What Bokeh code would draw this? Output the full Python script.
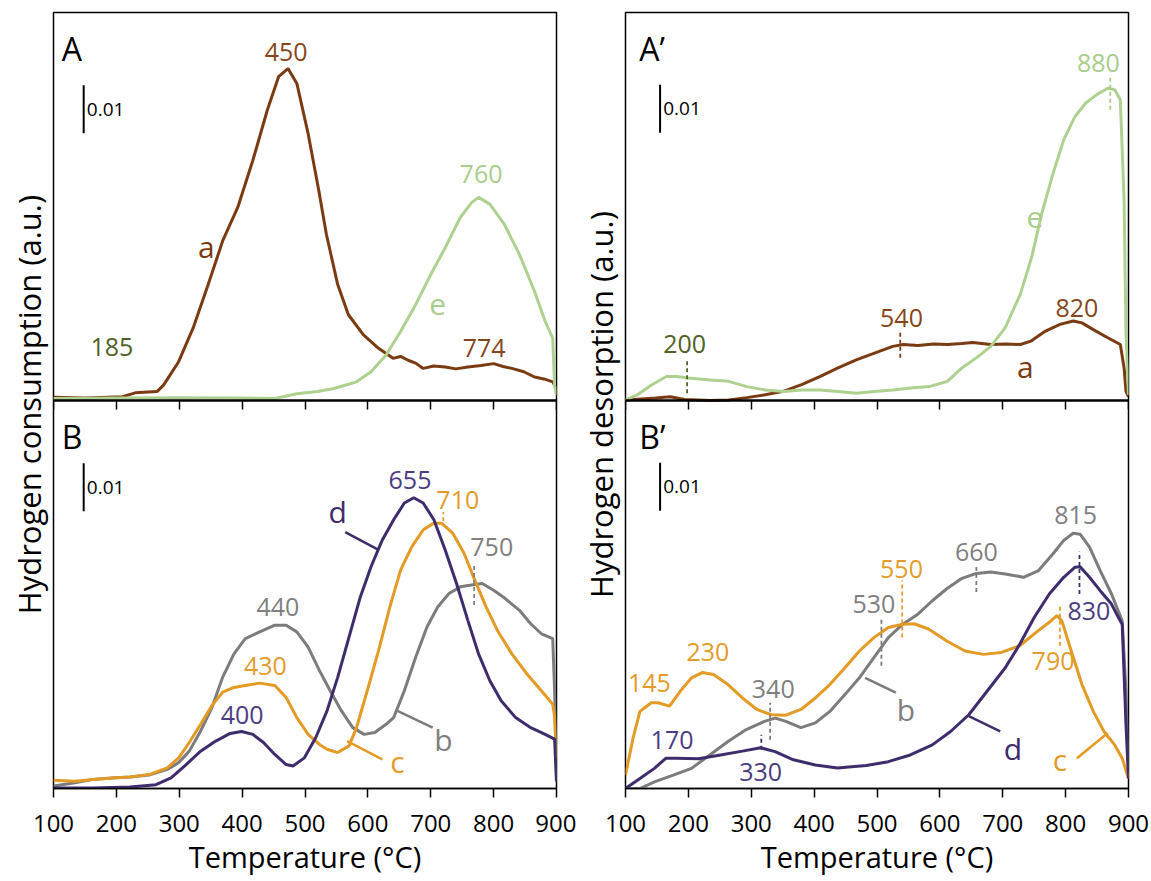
from bokeh.plotting import figure
from bokeh.models import Range1d, LinearAxis, FixedTicker, ColumnDataSource
from bokeh.layouts import row
from bokeh.embed import file_html
from bokeh.resources import INLINE
from bokeh.core.properties import value

FONT = "Open Sans"

# ---------------- data ----------------
TICKS = [100, 200, 300, 400, 500, 600, 700, 800, 900]
X_LABEL = "Temperature (°C)"
Y_LABEL_LEFT = "Hydrogen consumption  (a.u.)"
Y_LABEL_RIGHT = "Hydrogen desorption  (a.u.)"
SCALE_BAR = 0.01
SCALE_TEXT = "0.01"
YMAX = 0.081  # height of one panel in a.u.

# Panel A : TPR of samples a and e
A_a_T = [100, 150, 210, 230, 265, 275, 299, 322, 346, 369, 393, 417, 440, 458, 473, 487, 505, 522, 534,
         552, 569, 593, 617, 640, 652, 664, 676, 688, 705, 723, 740, 759, 780, 800, 815, 829, 848, 865,
         880, 894, 900]
A_a_H = [0.0007, 0.0005, 0.0008, 0.0016, 0.0019, 0.0032, 0.0081, 0.0151, 0.0242, 0.0333, 0.0403, 0.0501,
         0.0606, 0.0676, 0.0693, 0.0662, 0.0557, 0.0438, 0.0347, 0.0242, 0.0179, 0.0137, 0.0109, 0.0088,
         0.0092, 0.0084, 0.0078, 0.0067, 0.0072, 0.0070, 0.0066, 0.0070, 0.0073, 0.0077, 0.0071, 0.0067,
         0.0060, 0.0049, 0.0045, 0.0039, 0.0025]
A_e_T = [100, 200, 300, 400, 452, 487, 520, 546, 582, 605, 629, 652, 676, 700, 723, 747, 765, 776, 794,
         817, 841, 865, 882, 894, 897, 900]
A_e_H = [0.0004, 0.0005, 0.0006, 0.0005, 0.0004, 0.0014, 0.0019, 0.0025, 0.0039, 0.0060, 0.0095, 0.0144,
         0.0200, 0.0263, 0.0319, 0.0382, 0.0413, 0.0424, 0.0410, 0.0368, 0.0305, 0.0228, 0.0165, 0.0130,
         0.0032, 0.0011]

# Panel A' : TPD of samples a and e
Ap_e_T = [100, 119, 142, 165, 182, 200, 235, 264, 293, 322, 351, 380, 409, 438, 467, 496, 525, 554, 583,
          612, 635, 658, 681, 704, 728, 746, 762, 780, 797, 815, 832, 849, 867, 878, 887, 893, 896, 900]
Ap_e_H = [0.0001, 0.0012, 0.0033, 0.0050, 0.0050, 0.0047, 0.0043, 0.0040, 0.0029, 0.0022, 0.0019, 0.0022,
          0.0022, 0.0019, 0.0015, 0.0019, 0.0022, 0.0026, 0.0029, 0.0040, 0.0068, 0.0089, 0.0113, 0.0152,
          0.0222, 0.0299, 0.0390, 0.0474, 0.0544, 0.0593, 0.0621, 0.0638, 0.0652, 0.0649, 0.0628, 0.0418,
          0.0138, 0.0012]
Ap_a_T = [100, 148, 171, 194, 235, 264, 293, 322, 351, 380, 409, 438, 467, 496, 525, 542, 565, 590, 612,
          635, 652, 681, 705, 728, 745, 768, 791, 812, 826, 844, 867, 887, 893, 896, 900]
Ap_a_H = [0.0001, 0.0005, 0.0008, 0.0002, 0.0000, 0.0001, 0.0006, 0.0012, 0.0019, 0.0033, 0.0050, 0.0068,
          0.0085, 0.0099, 0.0113, 0.0117, 0.0115, 0.0118, 0.0117, 0.0119, 0.0121, 0.0117, 0.0118, 0.0117,
          0.0124, 0.0145, 0.0159, 0.0166, 0.0162, 0.0148, 0.0131, 0.0117, 0.0068, 0.0019, 0.0008]

# Panel B : TPR of samples b, c, d
B_b_T = [100, 134, 163, 193, 222, 252, 281, 299, 316, 334, 352, 369, 387, 405, 428, 452, 470, 487, 505,
         523, 540, 558, 576, 594, 611, 629, 641, 658, 676, 694, 711, 729, 747, 765, 782, 800, 818, 841,
         859, 876, 894, 897, 900]
B_b_H = [0.0005, 0.0012, 0.0019, 0.0022, 0.0024, 0.0028, 0.0040, 0.0054, 0.0078, 0.0120, 0.0169, 0.0232,
         0.0281, 0.0313, 0.0327, 0.0341, 0.0341, 0.0327, 0.0295, 0.0246, 0.0204, 0.0162, 0.0127, 0.0113,
         0.0117, 0.0134, 0.0148, 0.0204, 0.0274, 0.0337, 0.0379, 0.0407, 0.0421, 0.0425, 0.0428, 0.0414,
         0.0397, 0.0372, 0.0344, 0.0323, 0.0313, 0.0204, 0.0015]
B_c_T = [100, 134, 163, 193, 222, 252, 281, 299, 316, 334, 352, 369, 387, 405, 428, 452, 470, 487, 505,
         523, 535, 552, 570, 582, 599, 617, 635, 652, 670, 688, 705, 717, 735, 753, 770, 788, 806, 829,
         853, 876, 894, 897, 900]
B_c_H = [0.0017, 0.0015, 0.0019, 0.0022, 0.0024, 0.0029, 0.0043, 0.0064, 0.0096, 0.0134, 0.0173, 0.0201,
         0.0211, 0.0215, 0.0220, 0.0215, 0.0190, 0.0148, 0.0113, 0.0092, 0.0082, 0.0075, 0.0089, 0.0127,
         0.0204, 0.0288, 0.0379, 0.0456, 0.0505, 0.0540, 0.0554, 0.0554, 0.0533, 0.0491, 0.0435, 0.0379,
         0.0330, 0.0281, 0.0239, 0.0204, 0.0176, 0.0150, 0.0064]
B_d_T = [100, 163, 222, 263, 287, 311, 334, 358, 381, 399, 417, 434, 452, 470, 481, 499, 517, 535, 552,
         570, 588, 605, 623, 641, 658, 673, 688, 705, 723, 741, 759, 776, 794, 812, 835, 859, 882, 897, 900]
B_d_H = [0.0001, 0.0001, 0.0003, 0.0008, 0.0022, 0.0050, 0.0078, 0.0099, 0.0115, 0.0119, 0.0113, 0.0096,
         0.0071, 0.0050, 0.0047, 0.0064, 0.0106, 0.0162, 0.0232, 0.0316, 0.0400, 0.0463, 0.0519, 0.0561,
         0.0596, 0.0607, 0.0596, 0.0561, 0.0498, 0.0428, 0.0351, 0.0281, 0.0225, 0.0183, 0.0148, 0.0127,
         0.0113, 0.0103, 0.0015]

# Panel B' : TPD of samples b, c, d
Bp_b_T = [100, 123, 146, 176, 205, 234, 263, 292, 321, 338, 355, 379, 402, 425, 449, 472, 495, 518, 541,
          565, 588, 611, 634, 658, 681, 704, 733, 757, 780, 797, 812, 823, 838, 855, 873, 890, 896, 900]
Bp_b_H = [0.0000, 0.0000, 0.0014, 0.0028, 0.0042, 0.0070, 0.0098, 0.0123, 0.0140, 0.0147, 0.0140, 0.0127,
          0.0137, 0.0161, 0.0196, 0.0231, 0.0273, 0.0315, 0.0343, 0.0364, 0.0392, 0.0417, 0.0438, 0.0449,
          0.0452, 0.0448, 0.0441, 0.0455, 0.0490, 0.0518, 0.0533, 0.0531, 0.0504, 0.0455, 0.0406, 0.0350,
          0.0203, 0.0028]
Bp_c_T = [100, 112, 123, 141, 152, 170, 187, 205, 222, 240, 263, 286, 309, 332, 355, 379, 402, 425, 449,
          472, 495, 518, 541, 559, 582, 611, 640, 669, 698, 727, 756, 774, 786, 794, 809, 826, 844, 861,
          878, 890, 900]
Bp_c_H = [0.0028, 0.0105, 0.0161, 0.0179, 0.0179, 0.0172, 0.0203, 0.0231, 0.0242, 0.0238, 0.0217, 0.0189,
          0.0165, 0.0154, 0.0153, 0.0165, 0.0189, 0.0217, 0.0252, 0.0287, 0.0315, 0.0336, 0.0343, 0.0344,
          0.0333, 0.0308, 0.0287, 0.0280, 0.0284, 0.0298, 0.0329, 0.0347, 0.0361, 0.0350, 0.0287, 0.0217,
          0.0161, 0.0119, 0.0091, 0.0063, 0.0021]
Bp_d_T = [100, 123, 146, 164, 181, 216, 251, 286, 315, 338, 367, 402, 437, 483, 518, 553, 588, 617, 646,
          675, 704, 727, 750, 774, 797, 815, 823, 838, 855, 873, 884, 890, 896, 900]
Bp_d_H = [0.0000, 0.0021, 0.0042, 0.0063, 0.0063, 0.0062, 0.0070, 0.0078, 0.0085, 0.0077, 0.0060, 0.0049,
          0.0043, 0.0048, 0.0056, 0.0070, 0.0091, 0.0119, 0.0154, 0.0203, 0.0252, 0.0301, 0.0357, 0.0406,
          0.0441, 0.0462, 0.0463, 0.0441, 0.0413, 0.0385, 0.0357, 0.0343, 0.0133, 0.0021]

# peak labels (text)
A_peaks = ["450", "760", "774", "185"]
Ap_peaks = ["880", "540", "820", "200"]
B_peaks = ["655", "710", "750", "440", "430", "400"]
Bp_peaks = ["815", "660", "550", "530", "830", "790", "230", "145", "340", "170", "330"]

# ---------------- styles / layout ----------------
BROWN = "#7b3b12"
GREEN = "#aed190"
OLIVE = "#4f6228"
ORANGE = "#e49b26"
PURPLE = "#3f2c6c"
GREY = "#7c7c7c"
T_BROWN = "#86461b"
T_GREEN = "#a9cd8c"
T_ORANGE = "#e39c2c"
T_PURPLE = "#4b3c82"
T_GREY = "#7f7f7f"

NUM_SIZE = "25px"
LET_SIZE = "30px"

# positions of the annotation texts (x in deg C, y in a.u. within the panel)
A_peak_pos = [(470, 0.0727, T_BROWN), (780, 0.0473, T_GREEN), (785, 0.0109, T_BROWN), (193, 0.0112, OLIVE)]
A_letters = [("a", 343, 0.0322, BROWN), ("e", 711, 0.0200, T_GREEN)]
A_dash = []
A_lead = []

Ap_peak_pos = [(852, 0.0705, T_GREEN), (539, 0.0173, T_BROWN), (818, 0.0194, T_BROWN), (194, 0.0117, OLIVE)]
Ap_letters = [("e", 751, 0.0383, T_GREEN), ("a", 736, 0.0071, BROWN)]
Ap_dash = [(871, 0.0607, 0.0677, T_GREEN), (537, 0.0089, 0.0145, BROWN), (198, 0.0015, 0.0085, OLIVE)]
Ap_lead = []

B_peak_pos = [(667, 0.0645, T_PURPLE), (743, 0.0603, T_ORANGE), (797, 0.0505, T_GREY),
              (457, 0.0379, T_GREY), (437, 0.0255, T_ORANGE), (400, 0.0154, T_PURPLE)]
B_letters = [("d", 552, 0.0579, PURPLE), ("b", 720, 0.0103, T_GREY), ("c", 647, 0.0057, T_ORANGE)]
B_dash = [(720, 0.0558, 0.0577, T_ORANGE), (769, 0.0383, 0.0467, T_GREY)]
B_lead = [(564, 0.0535, 617, 0.0498, PURPLE), (647, 0.0162, 703, 0.0127, GREY), (567, 0.0099, 623, 0.0061, ORANGE)]

Bp_peak_pos = [(816, 0.0571, T_GREY), (658, 0.0494, T_GREY), (539, 0.0459, T_ORANGE), (495, 0.0385, T_GREY),
               (837, 0.0371, T_PURPLE), (780, 0.0266, T_ORANGE), (231, 0.0284, T_ORANGE), (138, 0.0221, T_ORANGE),
               (335, 0.0207, T_GREY), (174, 0.0102, T_PURPLE), (315, 0.0035, T_PURPLE)]
Bp_letters = [("b", 546, 0.0165, T_GREY), ("d", 716, 0.0084, PURPLE), ("c", 791, 0.0060, T_ORANGE)]
Bp_dash = [(658, 0.0410, 0.0466, GREY), (540, 0.0315, 0.0434, ORANGE), (507, 0.0256, 0.0354, GREY),
           (822, 0.0406, 0.0494, PURPLE), (791, 0.0298, 0.0385, ORANGE), (330, 0.0102, 0.0179, GREY),
           (316, 0.0081, 0.0112, PURPLE)]
Bp_lead = [(481, 0.0231, 530, 0.0200, GREY), (646, 0.0151, 696, 0.0119, PURPLE), (818, 0.0063, 867, 0.0116, ORANGE)]


def add_panel(p, rng, curves, letter, letter_x, bar_x, bar_y0, peaks, peak_pos, letters, dashes, leads):
    kw = {} if rng is None else {"y_range_name": rng}
    for T, H, col in curves:
        p.line(T, H, line_color=col, line_width=3, **kw)
    if dashes:
        src = ColumnDataSource(dict(x=[d[0] for d in dashes], y0=[d[1] for d in dashes],
                                    y1=[d[2] for d in dashes], c=[d[3] for d in dashes]))
        p.segment(x0="x", y0="y0", x1="x", y1="y1", source=src, line_color="c",
                  line_width=1.8, line_dash="4 3", **kw)
    if leads:
        src = ColumnDataSource(dict(x0=[d[0] for d in leads], y0=[d[1] for d in leads],
                                    x1=[d[2] for d in leads], y1=[d[3] for d in leads],
                                    c=[d[4] for d in leads]))
        p.segment(x0="x0", y0="y0", x1="x1", y1="y1", source=src, line_color="c", line_width=2.5, **kw)
    src = ColumnDataSource(dict(x=[q[0] for q in peak_pos], y=[q[1] for q in peak_pos],
                                t=peaks, c=[q[2] for q in peak_pos]))
    p.text(x="x", y="y", text="t", source=src, text_color="c", text_font=value(FONT),
           text_font_size=NUM_SIZE, text_align="center", text_baseline="middle", **kw)
    src = ColumnDataSource(dict(x=[q[1] for q in letters], y=[q[2] for q in letters],
                                t=[q[0] for q in letters], c=[q[3] for q in letters]))
    p.text(x="x", y="y", text="t", source=src, text_color="c", text_font=value(FONT),
           text_font_size=LET_SIZE, text_align="center", text_baseline="middle", **kw)
    p.text(x=[letter_x], y=[0.0735], text=[letter], text_color="black", text_font=value(FONT),
           text_font_size="32px", text_align="left", text_baseline="middle", **kw)
    p.segment(x0=[bar_x], y0=[bar_y0], x1=[bar_x], y1=[bar_y0 + SCALE_BAR], line_color="black",
              line_width=2, **kw)
    p.text(x=[bar_x + 5], y=[bar_y0 + SCALE_BAR / 2], text=[SCALE_TEXT], text_color="black",
           text_font=value(FONT), text_font_size="19px", text_align="left", text_baseline="middle", **kw)


def make_fig(ylabel, bl, br):
    p = figure(frame_width=503, frame_height=776, min_border_left=bl, min_border_right=br,
               min_border_top=12, min_border_bottom=93,
               x_range=Range1d(100, 900), y_range=Range1d(0, 2 * YMAX),
               x_axis_type=None, y_axis_type=None, output_backend="svg", toolbar_location=None)
    p.extra_y_ranges = {"top": Range1d(-YMAX, YMAX)}
    p.outline_line_color = "black"
    p.outline_line_width = 1.5
    p.background_fill_color = "white"
    p.border_fill_color = "white"

    xb = LinearAxis(ticker=FixedTicker(ticks=TICKS), axis_label=X_LABEL)
    xb.axis_line_color = "black"
    xb.axis_line_width = 1.5
    xb.major_tick_out = 9
    xb.major_tick_in = 0
    xb.major_tick_line_width = 1.5
    xb.minor_tick_line_color = None
    xb.major_label_text_font = FONT
    xb.major_label_text_font_size = "24px"
    xb.major_label_text_color = "black"
    xb.major_label_text_baseline = "middle"
    xb.major_label_standoff = 17
    xb.axis_label_text_font = FONT
    xb.axis_label_text_font_size = "29px"
    xb.axis_label_text_font_style = "normal"
    xb.axis_label_text_color = "black"
    xb.axis_label_standoff = 2
    p.add_layout(xb, "below")

    xm = LinearAxis(ticker=FixedTicker(ticks=TICKS), fixed_location=YMAX)
    xm.axis_line_color = "black"
    xm.axis_line_width = 2.5
    xm.major_tick_out = 9
    xm.major_tick_in = 0
    xm.major_tick_line_width = 1.5
    xm.minor_tick_line_color = None
    xm.major_label_text_color = None
    p.add_layout(xm, "below")

    yl = LinearAxis(ticker=FixedTicker(ticks=[]), axis_label=ylabel)
    yl.axis_line_color = None
    yl.major_tick_line_color = None
    yl.minor_tick_line_color = None
    yl.axis_label_text_font = FONT
    yl.axis_label_text_font_size = "31px"
    yl.axis_label_text_font_style = "normal"
    yl.axis_label_text_color = "black"
    yl.axis_label_standoff = 4
    p.add_layout(yl, "left")
    return p


left = make_fig(Y_LABEL_LEFT, 53, 20)
add_panel(left, "top", [(A_a_T, A_a_H, BROWN), (A_e_T, A_e_H, GREEN)], "A", 113, 148, 0.0558,
          A_peaks, A_peak_pos, A_letters, A_dash, A_lead)
add_panel(left, None, [(B_b_T, B_b_H, GREY), (B_c_T, B_c_H, ORANGE), (B_d_T, B_d_H, PURPLE)], "B", 113, 148,
          0.0579, B_peaks, B_peak_pos, B_letters, B_dash, B_lead)

right = make_fig(Y_LABEL_RIGHT, 47, 25)
add_panel(right, "top", [(Ap_a_T, Ap_a_H, BROWN), (Ap_e_T, Ap_e_H, GREEN)], "A\u2019", 122, 155, 0.0559,
          Ap_peaks, Ap_peak_pos, Ap_letters, Ap_dash, Ap_lead)
add_panel(right, None, [(Bp_b_T, Bp_b_H, GREY), (Bp_c_T, Bp_c_H, ORANGE), (Bp_d_T, Bp_d_H, PURPLE)], "B\u2019",
          122, 155, 0.0580, Bp_peaks, Bp_peak_pos, Bp_letters, Bp_dash, Bp_lead)

layout = row(left, right)
html = file_html(layout, INLINE)
html = html.replace("<head>", "<head><style>html, body {margin: 0; overflow: hidden;}</style>", 1)
open("out.html", "w").write(html)
